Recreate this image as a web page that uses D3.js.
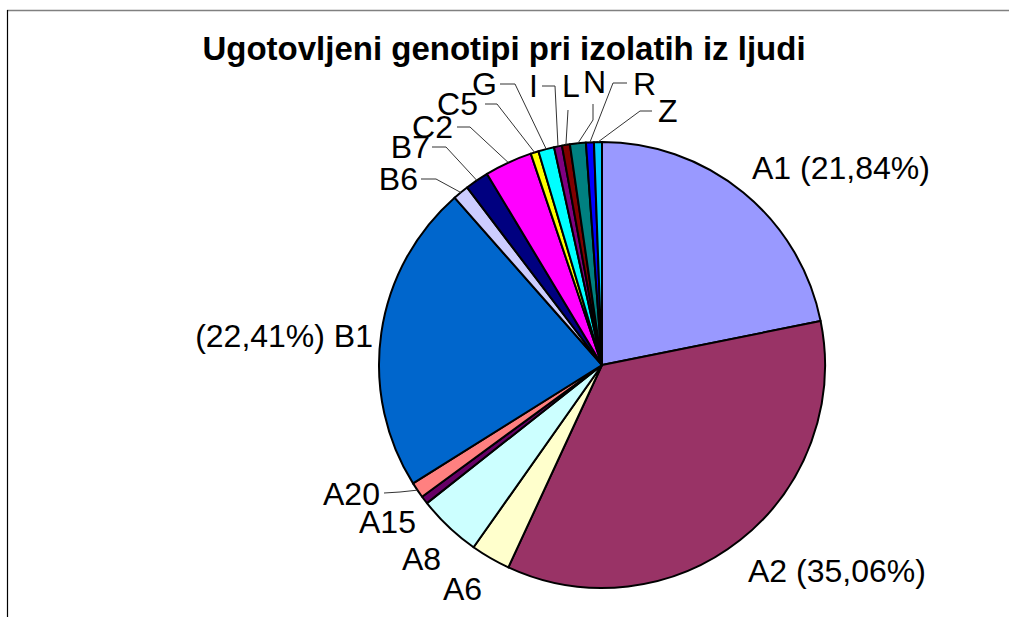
<!DOCTYPE html>
<html lang="sl">
<head>
<meta charset="UTF-8">
<script src="https://cdn.jsdelivr.net/npm/d3@7/dist/d3.min.js"></script>
<title>Ugotovljeni genotipi pri izolatih iz ljudi</title>
<style>
  html, body { margin: 0; padding: 0; background: #fff; }
  svg { display: block; font-family: "Liberation Sans", Arial, sans-serif; }
</style>
</head>
<body>
<svg id="chart" width="1009" height="617"></svg>
<script>
// genotypes, clockwise from 12 o'clock
const genotypes = ["A1", "A2", "A6", "A8", "A15", "A20", "B1", "B6", "B7", "C2", "C5", "G", "I", "L", "N", "R", "Z"];
// number of isolates (174 in total)
const counts = [38, 61, 5, 8, 1, 2, 39, 2, 3, 6, 1, 2, 1, 1, 2, 1, 1];
const colors = ["#9999FF", "#993366", "#FFFFCC", "#CCFFFF", "#660066", "#FF8080", "#0066CC", "#CCCCFF",
                "#000080", "#FF00FF", "#FFFF00", "#00FFFF", "#800080", "#800000", "#008080", "#0000FF", "#00CCFF"];
// which labels show the share
const showPct = ["A1", "A2", "B1"];

const title = "Ugotovljeni genotipi pri izolatih iz ljudi";

// label placement (text anchor point + leader elbow), Excel style
const labelLayout = {
  A1:  { x: 752, y: 179, anchor: "start" },
  A2:  { x: 748, y: 582, anchor: "start" },
  A6:  { x: 443, y: 600, anchor: "start" },
  A8:  { x: 402, y: 570, anchor: "start" },
  A15: { x: 359, y: 533, anchor: "start" },
  A20: { x: 323, y: 505, anchor: "start", leader: [[384, 493], [400, 492]] },
  B1:  { x: 373, y: 347, anchor: "end", pctFirst: true },
  B6:  { x: 418, y: 190, anchor: "end", leader: [[421, 179], [436, 179]] },
  B7:  { x: 430, y: 158, anchor: "end", leader: [[432, 147], [446, 147]] },
  C2:  { x: 453, y: 138, anchor: "end", leader: [[457, 127], [470, 127]] },
  C5:  { x: 478, y: 115, anchor: "end", leader: [[485, 104], [497, 104]] },
  G:   { x: 497, y: 95,  anchor: "end", leader: [[500, 84], [515, 84]] },
  I:   { x: 538, y: 97,  anchor: "end", leader: [[542, 86], [555, 86]] },
  L:   { x: 562, y: 97,  anchor: "start", leader: [[568, 110]] },
  N:   { x: 583, y: 93,  anchor: "start", leader: [[593, 104], [593, 120]] },
  R:   { x: 633, y: 95,  anchor: "start", leader: [[627, 83], [613, 83]] },
  Z:   { x: 658, y: 122, anchor: "start", leader: [[652, 111], [640, 111]] }
};

const svg = d3.select("#chart");
const cx = 602, cy = 365, radius = 223;

// frame of the chart area
svg.append("line").attr("x1", 7).attr("x2", 1009).attr("y1", 10.5).attr("y2", 10.5)
  .attr("stroke", "#808080").attr("stroke-width", 1.5);
svg.append("line").attr("x1", 7.5).attr("x2", 7.5).attr("y1", 10).attr("y2", 617)
  .attr("stroke", "#000").attr("stroke-width", 1.2);

svg.append("text")
  .attr("x", 504).attr("y", 60)
  .attr("text-anchor", "middle")
  .attr("font-size", 33).attr("font-weight", "bold")
  .text(title);

const data = genotypes.map((g, i) => ({ name: g, value: counts[i], color: colors[i] }));
const total = d3.sum(counts);

const pie = d3.pie().sort(null).value(d => d.value);
const arc = d3.arc().innerRadius(0).outerRadius(radius);
const arcs = pie(data);

const g = svg.append("g").attr("transform", `translate(${cx},${cy})`);

g.selectAll("path.slice")
  .data(arcs)
  .join("path")
  .attr("class", "slice")
  .attr("d", arc)
  .attr("fill", d => d.data.color)
  .attr("stroke", "#000")
  .attr("stroke-width", 2)
  .attr("stroke-linejoin", "round");

const fmtPct = v => d3.format(".2f")(v).replace(".", ",") + "%";

function rimPoint(d) {
  const a = (d.startAngle + d.endAngle) / 2;
  return [cx + radius * Math.sin(a), cy - radius * Math.cos(a)];
}

// leader lines
arcs.forEach(d => {
  const lay = labelLayout[d.data.name];
  if (!lay || !lay.leader) return;
  const pts = lay.leader.concat([rimPoint(d)]);
  svg.append("path")
    .attr("d", d3.line()(pts))
    .attr("fill", "none")
    .attr("stroke", "#333")
    .attr("stroke-width", 1);
});

// labels
svg.selectAll("text.lbl")
  .data(arcs)
  .join("text")
  .attr("class", "lbl")
  .attr("x", d => labelLayout[d.data.name].x)
  .attr("y", d => labelLayout[d.data.name].y)
  .attr("text-anchor", d => labelLayout[d.data.name].anchor)
  .attr("font-size", 32)
  .attr("fill", "#000")
  .text(d => {
    const name = d.data.name;
    if (!showPct.includes(name)) return name;
    const p = "(" + fmtPct(d.data.value / total * 100) + ")";
    return labelLayout[name].pctFirst ? p + " " + name : name + " " + p;
  });
</script>
</body>
</html>
